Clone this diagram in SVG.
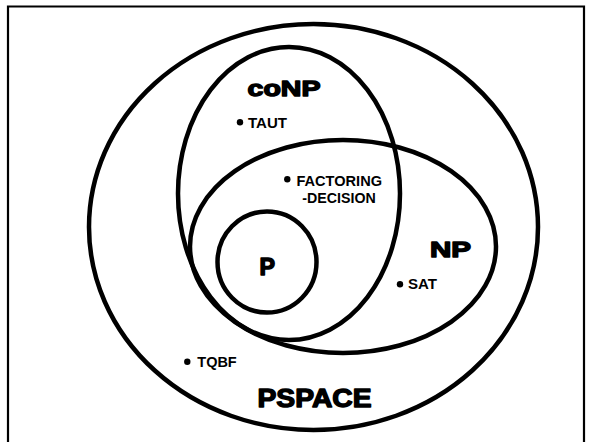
<svg xmlns="http://www.w3.org/2000/svg" width="589" height="442" viewBox="0 0 589 442">
  <style>
    .set { fill: none; stroke: #000; stroke-width: 4.5; }
    .heavy { font-family: "Liberation Sans", Arial, sans-serif; font-weight: bold; fill: #000; stroke: #000; stroke-width: 1.4; stroke-linejoin: round; }
    .item { font-family: "Liberation Sans", Arial, sans-serif; font-weight: bold; font-size: 14px; fill: #000; }
    .dot { fill: #000; }
  </style>
  <rect width="589" height="442" fill="#fff"/>
  <!-- page frame -->
  <path d="M8 442 V6.5 H584 V442" fill="none" stroke="#000" stroke-width="2.2"/>

  <g id="pspace">
    <ellipse class="set" cx="313.5" cy="227" rx="224.5" ry="203"/>
    <text class="heavy" x="257.5" y="407" font-size="26" textLength="114" lengthAdjust="spacingAndGlyphs">PSPACE</text>
  </g>

  <g id="conp">
    <ellipse class="set" cx="289" cy="193.5" rx="111" ry="146.5"/>
    <text class="heavy" x="247.5" y="96" font-size="22" textLength="73" lengthAdjust="spacingAndGlyphs">coNP</text>
  </g>

  <g id="np">
    <ellipse class="set" cx="343" cy="246.5" rx="153" ry="106.5"/>
    <text class="heavy" x="430" y="257" font-size="22" textLength="41" lengthAdjust="spacingAndGlyphs">NP</text>
  </g>

  <g id="p">
    <ellipse class="set" cx="267" cy="262" rx="49.5" ry="50.5"/>
    <text class="heavy" x="259.5" y="275" font-size="23" textLength="15.5" lengthAdjust="spacingAndGlyphs">P</text>
  </g>

  <g id="taut">
    <circle class="dot" cx="240" cy="122.3" r="3.2"/>
    <text class="item" x="248" y="128" textLength="39" lengthAdjust="spacingAndGlyphs">TAUT</text>
  </g>

  <g id="factoring">
    <circle class="dot" cx="287.3" cy="179.3" r="3.2"/>
    <text class="item" x="296.5" y="186" textLength="85.5" lengthAdjust="spacingAndGlyphs">FACTORING</text>
    <text class="item" x="302.3" y="202.7" textLength="73.5" lengthAdjust="spacingAndGlyphs">-DECISION</text>
  </g>

  <g id="sat">
    <circle class="dot" cx="400" cy="284.3" r="3.2"/>
    <text class="item" x="408" y="289" textLength="29" lengthAdjust="spacingAndGlyphs">SAT</text>
  </g>

  <g id="tqbf">
    <circle class="dot" cx="187.3" cy="361.7" r="3.2"/>
    <text class="item" x="197.3" y="367" textLength="39.4" lengthAdjust="spacingAndGlyphs">TQBF</text>
  </g>

  <g id="connectors"></g>
</svg>
